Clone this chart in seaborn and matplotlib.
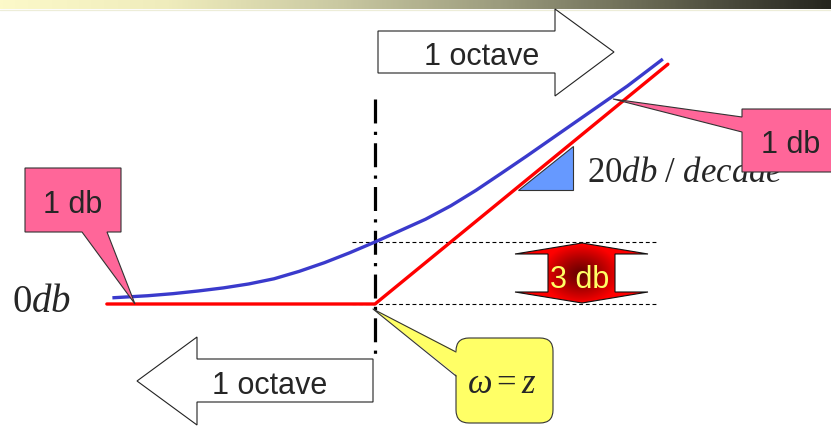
import numpy as np
import matplotlib
matplotlib.use("Agg")
import matplotlib.pyplot as plt
import matplotlib.transforms as mtransforms
from matplotlib.patches import Polygon, FancyBboxPatch
from matplotlib.colors import LinearSegmentedColormap
import seaborn as sns

# ---------------- data (x = log10(w/z) in decades, y = magnitude in dB) -------------
exact_x = [-0.52, -0.45, -0.40, -0.35, -0.30, -0.25, -0.20, -0.15, -0.10, -0.05, 0.0,
           0.05, 0.10, 0.15, 0.20, 0.25, 0.30, 0.35, 0.40, 0.45, 0.50, 0.57]
exact_db = [0.30, 0.40, 0.50, 0.63, 0.78, 0.97, 1.22, 1.58, 2.00, 2.48, 3.00,
            3.55, 4.10, 4.75, 5.50, 6.32, 7.15, 8.00, 8.85, 9.70, 10.55, 11.85]
asym_x = [-0.531, 0.0, 0.580]
asym_db = [0.0, 0.0, 11.6]
corner_x = 0.0
ref_levels_db = [0.0, 3.0]

labels = {
    "octave": "1 octave",
    "onedb": "1 db",
    "threedb": "3 db",
    "zero": r"$0db$",
    "slope": r"$20db\ /\ decade$",
    "corner": r"$\omega = z$",
}

# ---------------- style ----------------
sns.set_theme(style="white")
plt.rcParams["font.family"] = ["Liberation Sans", "DejaVu Sans"]
plt.rcParams["mathtext.fontset"] = "custom"
plt.rcParams["mathtext.rm"] = "Liberation Serif"
plt.rcParams["mathtext.it"] = "Liberation Serif:italic"
plt.rcParams["mathtext.bf"] = "Liberation Serif:bold"

W, H = 831, 427
X0, PX_DEC = 375.0, 505.0
Y0, PX_DB = 305.0, 20.67

def dx(px):
    return (px - X0) / PX_DEC

def dy(py):
    return (Y0 - py) / PX_DB

fig = plt.figure(figsize=(W / 100, H / 100), dpi=100)
ax = fig.add_axes([0, 0, 1, 1])
ax.set_axis_off()
pixT = mtransforms.Affine2D().scale(1 / W, -1 / H).translate(0, 1) + fig.transFigure

# top gradient bar
bar_cmap = LinearSegmentedColormap.from_list(
    "bar", ["#FCF9C9", "#EFECBC", "#CBCAA3", "#9C9C7E", "#63634F", "#25251F"])
ax.imshow(np.linspace(0, 1, 400)[None, :], cmap=bar_cmap, extent=(dx(0), dx(W), dy(10.5), dy(0)),
          aspect="auto", interpolation="bilinear", zorder=1)
ax.plot([0, W], [11, 11], color="#EDEDD8", lw=0.9, transform=pixT, zorder=1)

# reference dashed lines (0 dB and 3 dB)
ax.hlines(ref_levels_db, dx(352), dx(658), colors="black", linestyles=(0, (3.5, 2.5)), lw=0.8, zorder=2)

# vertical dash-dot at corner
ax.plot([corner_x, corner_x], [dy(100), dy(358)], color="black", lw=2.3,
        linestyle=(0, (7.5, 2.6, 1.0, 2.6)), solid_capstyle="butt", dash_capstyle="butt", zorder=3)

# slope triangle
ax.add_patch(Polygon([(518, 191), (573, 191), (573, 147)], closed=True, transform=pixT,
                     facecolor="#6699FF", edgecolor="#333333", lw=0.8, zorder=3))

# curves
sns.lineplot(x=exact_x, y=exact_db, color="#3A3ACC", lw=2.4, ax=ax, zorder=4,
             solid_joinstyle="round", solid_capstyle="butt")
sns.lineplot(x=asym_x, y=asym_db, color="#FF0000", lw=2.4, ax=ax, zorder=4)

# text labels
ax.text(12, 312, labels["zero"], transform=pixT, fontsize=28, ha="left", va="baseline", zorder=5)
ax.text(587, 182, labels["slope"], transform=pixT, fontsize=25, ha="left", va="baseline", zorder=5)

# octave arrows
top_arrow = [(378, 32), (555, 32), (555, 10), (614, 53), (555, 97), (555, 74), (378, 74)]
ax.add_patch(Polygon(top_arrow, closed=True, transform=pixT, facecolor="white",
                     edgecolor="#222222", lw=0.8, zorder=6))
ax.text(481.5, 65, labels["octave"], transform=pixT, fontsize=22, ha="center", va="baseline", zorder=7)

bot_arrow = [(137, 382), (197, 338), (197, 360), (373, 360), (373, 403), (197, 403), (197, 426)]
ax.add_patch(Polygon(bot_arrow, closed=True, transform=pixT, facecolor="white",
                     edgecolor="#222222", lw=0.8, zorder=6))
ax.text(270, 394, labels["octave"], transform=pixT, fontsize=22, ha="center", va="baseline", zorder=7)

# pink callouts
pink = "#FF6699"
left_call = [(25, 169), (121, 169), (121, 233), (107, 233), (135, 305), (82, 233), (25, 233)]
ax.add_patch(Polygon(left_call, closed=True, transform=pixT, facecolor=pink,
                     edgecolor="#333333", lw=0.8, zorder=6))
ax.text(72.5, 213, labels["onedb"], transform=pixT, fontsize=22, ha="center", va="baseline", zorder=7)

right_call = [(742, 110), (840, 110), (840, 173), (742, 173), (742, 133), (613, 100), (742, 118)]
ax.add_patch(Polygon(right_call, closed=True, transform=pixT, facecolor=pink,
                     edgecolor="#333333", lw=0.8, zorder=6))
ax.text(791, 153, labels["onedb"], transform=pixT, fontsize=22, ha="center", va="baseline", zorder=7)

# yellow callout
yellow = "#FFFF66"
ax.add_patch(FancyBboxPatch((456, 339), 97, 85, boxstyle="round,pad=0,rounding_size=13",
                            transform=pixT, facecolor=yellow, edgecolor="#333333", lw=0.8, zorder=6))
ax.add_patch(Polygon([(373, 310), (457.5, 353), (457.5, 377)], closed=True, transform=pixT,
                     facecolor=yellow, edgecolor="none", zorder=6.5))
ax.plot([456, 373, 456], [353, 310, 377], color="#333333", lw=0.8, transform=pixT, zorder=6.6)
ax.text(502, 393, labels["corner"], transform=pixT, fontsize=25, ha="center", va="baseline", zorder=7)

# 3 db double arrow with dark-centre gradient
arrow3 = [(582, 244), (648, 255), (615, 255), (615, 293), (648, 293), (582, 304),
          (515, 293), (548, 293), (548, 255), (515, 255)]
clip = Polygon(arrow3, closed=True, transform=pixT, facecolor="none", edgecolor="#111111",
               lw=0.8, zorder=5.5)
ax.add_patch(clip)
gx, gy = np.meshgrid(np.linspace(515, 648, 200), np.linspace(244, 304, 120))
d = np.sqrt(((gx - 581) / 40.0) ** 2 + ((gy - 275) / 30.0) ** 2)
inten = 0.40 + 0.60 * np.clip(d, 0, 1) ** 1.2
rgb = np.dstack([inten, np.zeros_like(inten), np.zeros_like(inten)])
im = ax.imshow(rgb, extent=(dx(515), dx(648), dy(304), dy(244)), origin="upper",
               aspect="auto", interpolation="bilinear", zorder=5)
im.set_clip_path(clip)
ax.text(580, 288, labels["threedb"], transform=pixT, fontsize=22, color="#FFFF66",
        ha="center", va="baseline", zorder=7)

ax.set_xlim(dx(0), dx(W))
ax.set_ylim(dy(H), dy(0))
fig.savefig("out.png", dpi=100, facecolor="white")
